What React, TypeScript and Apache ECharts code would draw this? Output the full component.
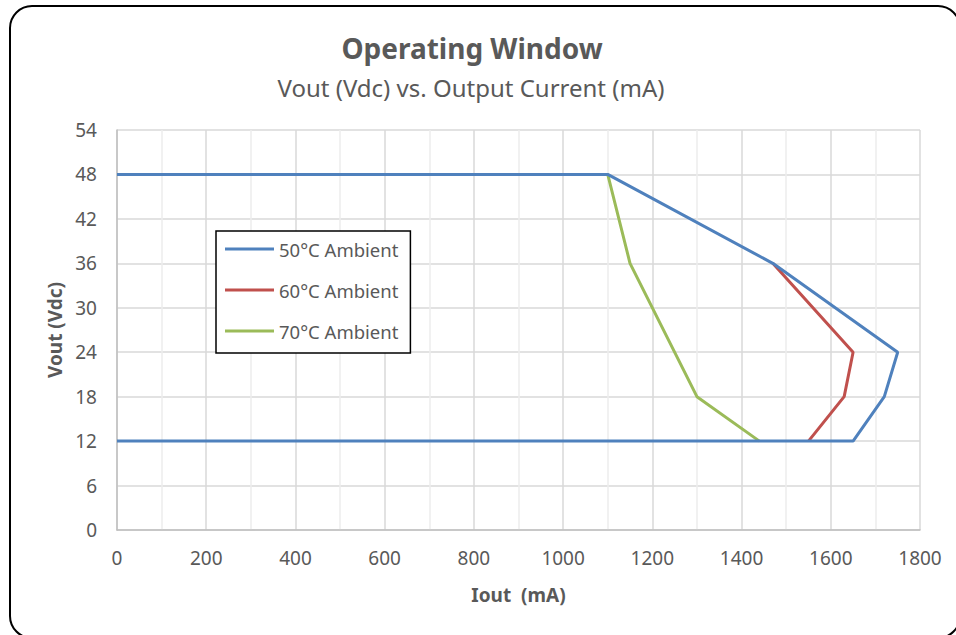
import React, { useEffect, useRef } from "react";
import * as echarts from "echarts";

const titleText = "Operating Window";
const subtitleText = "Vout (Vdc) vs. Output Current (mA)";
const xAxisName = "Iout  (mA)";
const yAxisName = "Vout (Vdc)";

const seriesNames = ["50°C Ambient", "60°C Ambient", "70°C Ambient"];
const seriesColors = ["#4F81BD", "#C0504D", "#9BBB59"];

const ambient50X = [0, 1100, 1470, 1750, 1720, 1650, 0];
const ambient50Y = [48, 48, 36, 24, 18, 12, 12];
const ambient60X = [1470, 1650, 1630, 1550];
const ambient60Y = [36, 24, 18, 12];
const ambient70X = [1100, 1150, 1300, 1440];
const ambient70Y = [48, 36, 18, 12];

const xMin = 0;
const xMax = 1800;
const xStep = 200;
const yMin = 0;
const yMax = 54;
const yStep = 6;

const FONT = "'Noto Sans', 'Open Sans', sans-serif";
const TEXT_COLOR = "#595959";

function pairs(xs: number[], ys: number[]) {
  return xs.map((x, i) => [x, ys[i]]);
}

export default function App() {
  const ref = useRef<HTMLDivElement>(null);

  useEffect(() => {
    if (!ref.current) return;
    const chart = echarts.init(ref.current, undefined, { renderer: "svg" });
    const allData = [
      pairs(ambient50X, ambient50Y),
      pairs(ambient60X, ambient60Y),
      pairs(ambient70X, ambient70Y),
    ];
    chart.setOption({
      animation: false,
      backgroundColor: "#ffffff",
      textStyle: { fontFamily: FONT },
      title: [
        {
          text: titleText,
          left: 467,
          textAlign: "center",
          top: 29,
          textStyle: { fontFamily: FONT, fontSize: 28, fontWeight: "bold", color: TEXT_COLOR },
        },
        {
          text: subtitleText,
          left: 466,
          textAlign: "center",
          top: 70,
          textStyle: { fontFamily: FONT, fontSize: 24, fontWeight: "normal", color: TEXT_COLOR },
        },
      ],
      grid: { left: 117, right: 36, top: 130, bottom: 105, containLabel: false },
      legend: {
        orient: "vertical",
        left: 216,
        top: 231,
        data: seriesNames.map((name) => ({ name, icon: "rect" })),
        backgroundColor: "#ffffff",
        borderColor: "#000000",
        borderWidth: 1.5,
        padding: [8, 12, 12, 9],
        itemWidth: 49,
        itemHeight: 3,
        itemGap: 21,
        textStyle: { fontFamily: FONT, fontSize: 18.5, color: TEXT_COLOR, lineHeight: 20 },
      },
      xAxis: {
        type: "value",
        min: xMin,
        max: xMax,
        interval: xStep,
        name: xAxisName,
        nameLocation: "middle",
        nameGap: 55,
        nameTextStyle: { fontFamily: FONT, fontSize: 19, fontWeight: "bold", color: TEXT_COLOR },
        axisLine: { show: true, lineStyle: { color: "#BFBFBF", width: 1.5 } },
        axisTick: { show: false },
        axisLabel: {
          fontFamily: FONT,
          fontSize: 19,
          color: TEXT_COLOR,
          margin: 18,
          formatter: (v: number) => String(v),
        },
        splitLine: { show: true, lineStyle: { color: "#D9D9D9", width: 1.5 } },
        minorTick: { show: false, splitNumber: 2 },
        minorSplitLine: { show: true, lineStyle: { color: "#EDEDED", width: 1.5 } },
      },
      yAxis: {
        type: "value",
        min: yMin,
        max: yMax,
        interval: yStep,
        name: yAxisName,
        nameLocation: "middle",
        nameGap: 51,
        nameTextStyle: { fontFamily: FONT, fontSize: 19, fontWeight: "bold", color: TEXT_COLOR },
        axisLine: { show: true, lineStyle: { color: "#BFBFBF", width: 1.5 } },
        axisTick: { show: false },
        axisLabel: {
          fontFamily: FONT,
          fontSize: 19,
          color: TEXT_COLOR,
          margin: 20,
          formatter: (v: number) => String(v),
        },
        splitLine: { show: true, lineStyle: { color: "#D9D9D9", width: 1.5 } },
      },
      series: seriesNames.map((name, i) => ({
        name,
        type: "line",
        data: allData[i],
        showSymbol: false,
        symbol: "none",
        lineStyle: { color: seriesColors[i], width: 3 },
        itemStyle: { color: seriesColors[i] },
        z: 3 - i,
      })),
      graphic: [
        {
          type: "rect",
          shape: { x: 10, y: 6, width: 950, height: 632, r: 22 },
          style: { fill: "none", stroke: "#000000", lineWidth: 2 },
          silent: true,
          z: 100,
        },
      ],
    });
    return () => chart.dispose();
  }, []);

  return (
    <div
      ref={ref}
      style={{ position: "fixed", left: 0, top: 0, width: 956, height: 635 }}
    />
  );
}
